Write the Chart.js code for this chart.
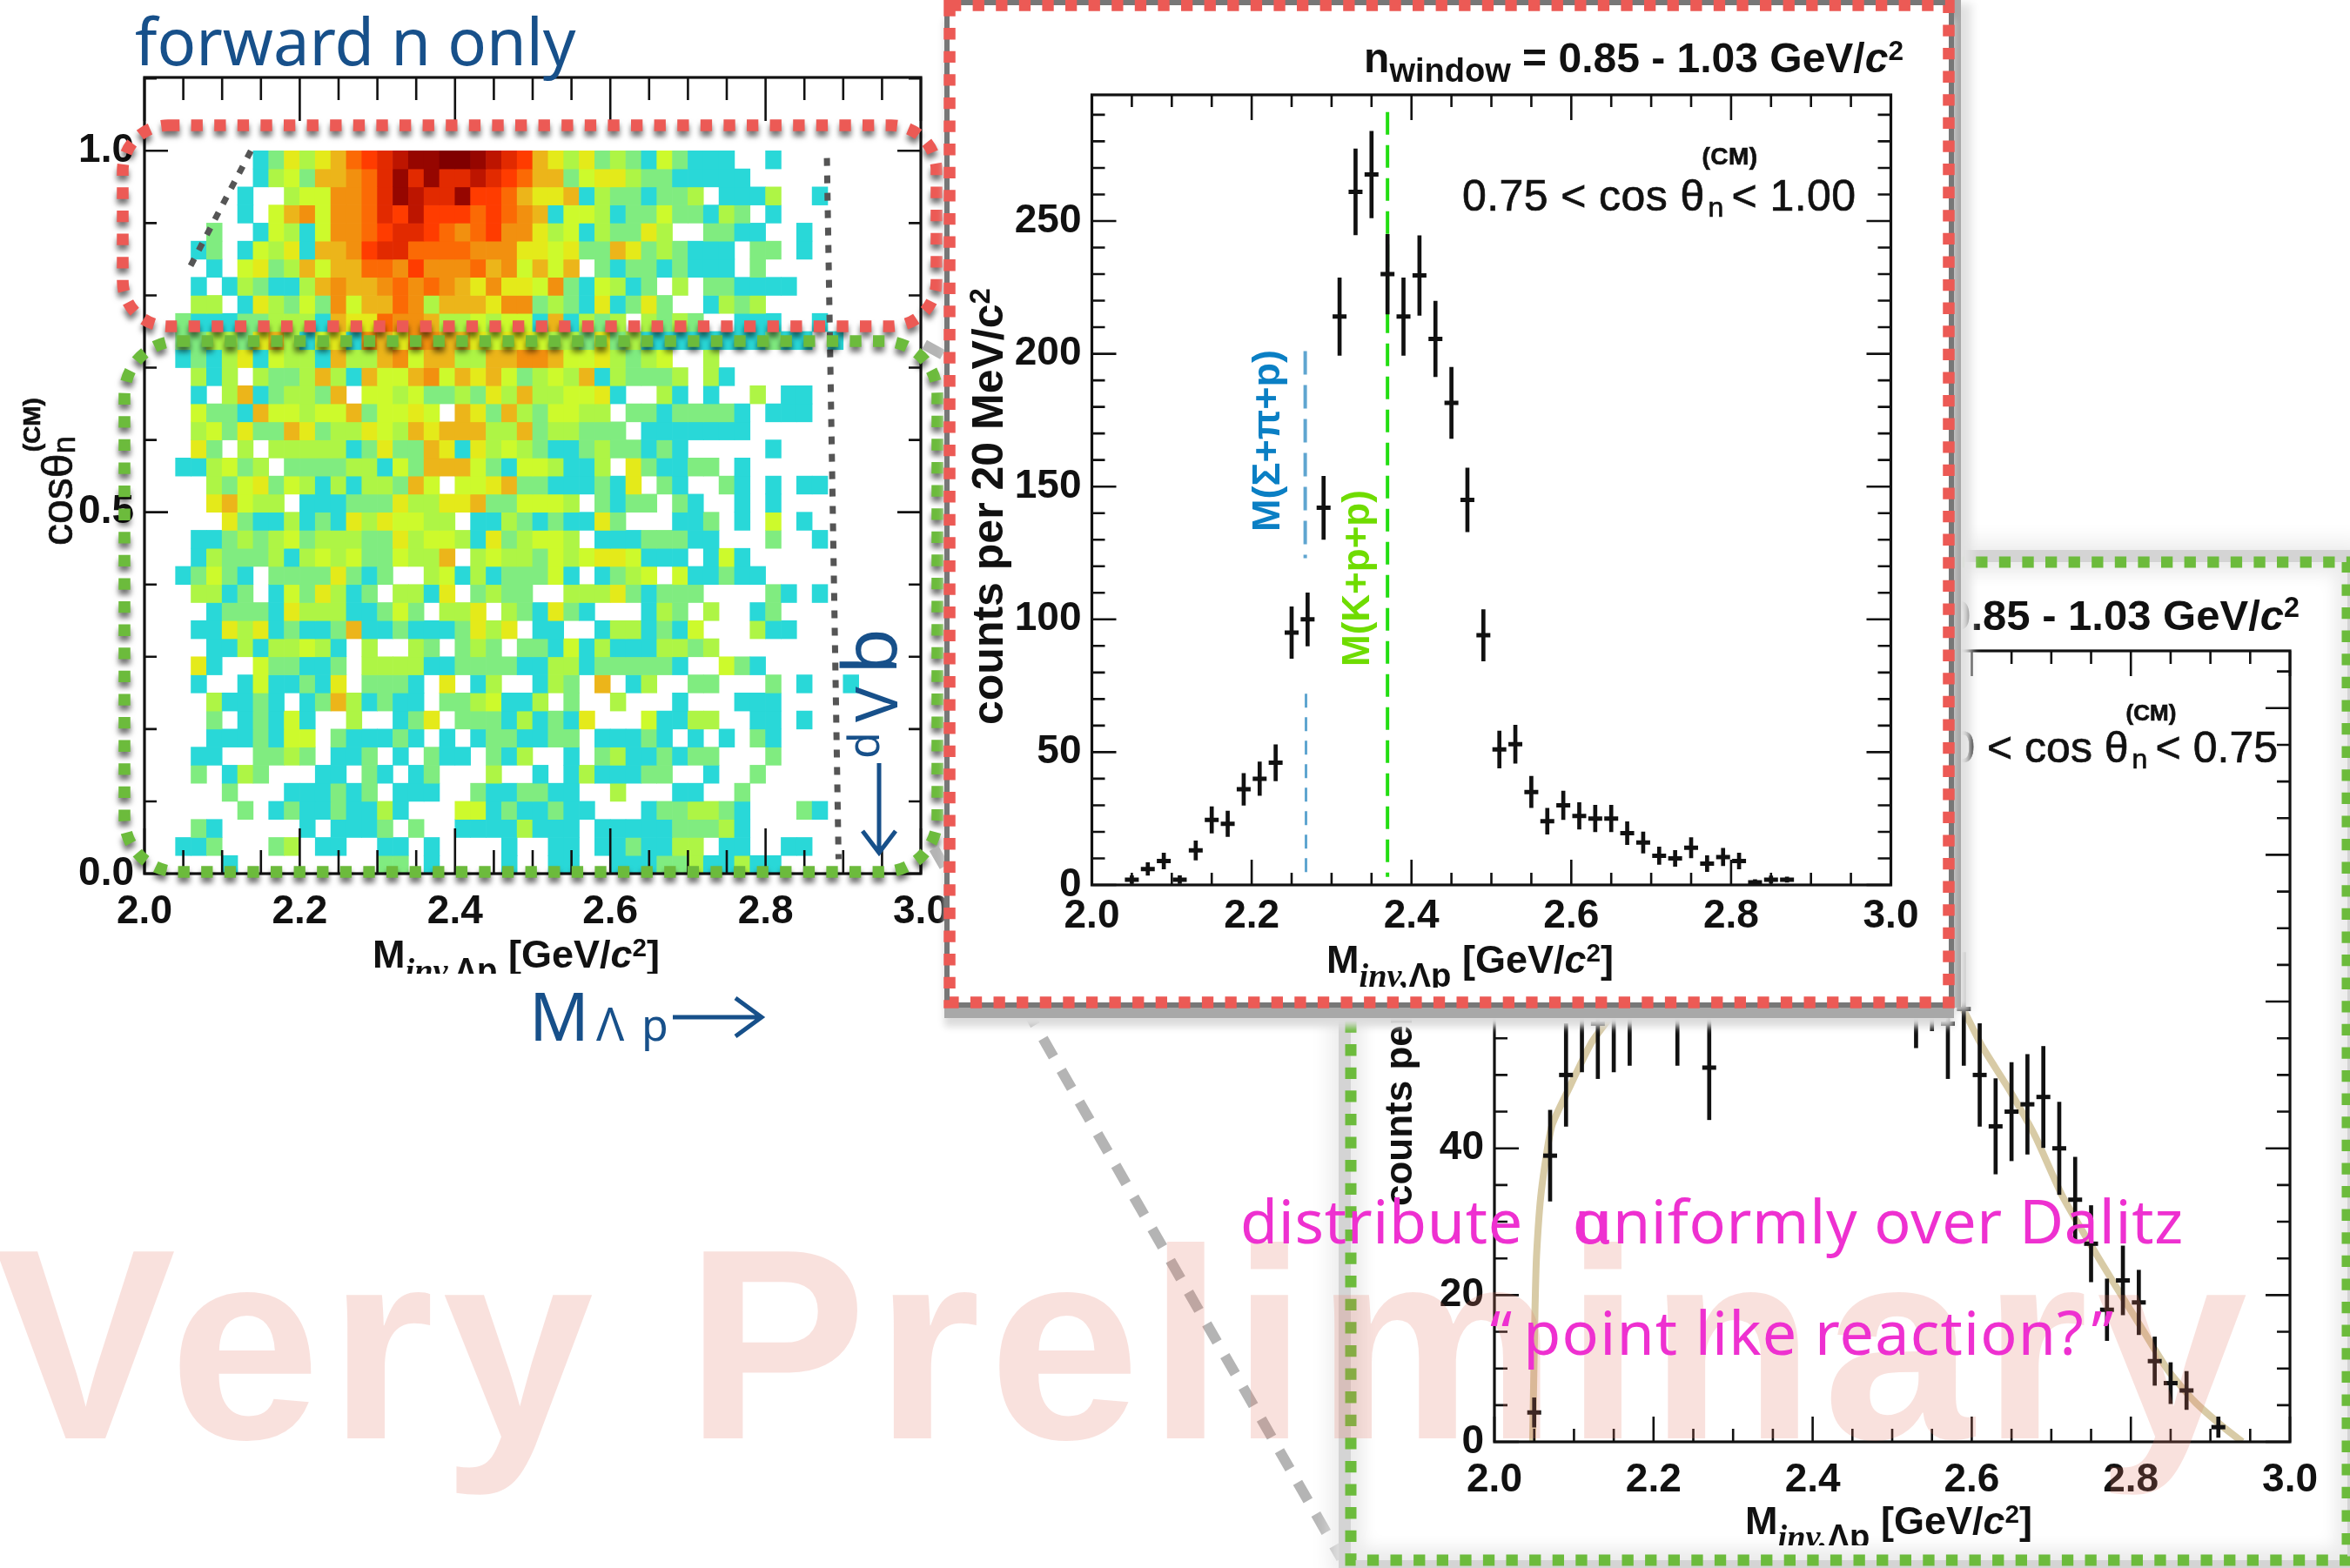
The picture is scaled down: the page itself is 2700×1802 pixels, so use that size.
<!DOCTYPE html>
<html>
<head>
<meta charset="utf-8">
<title>forward n only</title>
<script src="https://cdn.jsdelivr.net/npm/chart.js@4"></script>
<style>
html, body { margin: 0; padding: 0; background: #fff; }
#page { position: relative; width: 2700px; height: 1802px; overflow: hidden; background: #fff; font-family: "Liberation Sans", sans-serif; color: #111; }
canvas { position: absolute; }
svg { position: absolute; left: 0; top: 0; }
.t { position: absolute; line-height: 1; white-space: nowrap; }
.rot { transform-origin: 0 0; transform: rotate(-90deg); }
.blue { font-family: "Noto Sans", sans-serif; color: #17508a; }
.pink { font-family: "Noto Sans", sans-serif; color: #ee30d0; font-size: 70px; letter-spacing: 0.7px; z-index: 9; }
.bold { font-weight: bold; }
.semi { -webkit-text-stroke: 0.7px #111; }
.sub { font-size: 0.78em; position: relative; top: 0.3em; }
.sup { font-size: 0.66em; position: relative; top: -0.45em; }
.inv { font-family: "Liberation Serif", serif; font-style: italic; font-size: 0.85em; position: relative; top: 0.42em; }
.lam { font-family: "Liberation Sans", sans-serif; font-style: normal; }
.slot { display: inline-block; position: relative; width: 0.62em; height: 1em; }
.slot span { position: absolute; line-height: 1; }
.clip { position: absolute; overflow: hidden; white-space: nowrap; line-height: 1; font-weight: bold; font-size: 45px; }
#greenBox, #redBox { position: absolute; background: #fff; }
#greenBox { left: 1552px; top: 646px; width: 1145px; height: 1147px; z-index: 3; box-shadow: 0 0 0 14px #d4d4d4, 0 0 24px 22px #eaeaea, inset 0 0 18px 14px #ececec; }
#redBox { left: 1091px; top: 6px; width: 1148px; height: 1146px; z-index: 5; box-shadow: 0 0 0 6px #777, 0 12px 0 6px #a8a8a8, 0 22px 8px 6px #dcdcdc, 8px 0 0 6px #a8a8a8, 20px 4px 10px 6px #e2e2e2; }
</style>
</head>
<body>
<div id="page">
  <canvas id="heatChart" width="1130" height="1140" style="left:0;top:0;z-index:1"></canvas>

  <div class="t semi" style="font-size:50px;left:33px;top:627px;transform-origin:0 0;transform:rotate(-90deg);z-index:2">cosθ<span class="slot"><span style="font-size:36px;left:0;top:23px">n</span><span style="font-size:28px;font-weight:bold;left:2px;top:-10px">(CM)</span></span></div>
  <div class="clip" style="left:428px;top:1074px;width:340px;height:45px;z-index:2">M<span class="inv">inv,<span class="lam">Λp</span></span> [GeV/<i>c</i><span class="sup">2</span>]</div>

  <div class="t blue" style="font-size:74px;left:155px;top:10px;z-index:2">forward n only</div>
  <div class="t blue" style="font-size:76px;left:608px;top:1129px;z-index:2">M</div>
  <div class="t blue" style="font-size:53px;left:685px;top:1149px;z-index:2">Λ</div>
  <div class="t blue" style="font-size:50px;left:737px;top:1152px;z-index:2">p</div>
  <div class="t blue rot" style="font-size:50px;left:966px;top:872px;z-index:2">d</div>
  <div class="t blue rot" style="font-size:68px;left:971px;top:830px;z-index:2">V</div>
  <div class="t blue rot" style="font-size:86px;left:954px;top:775px;z-index:2">b</div>

  <svg width="2700" height="1802" style="z-index:2">
    <g fill="none" stroke="#17508a" stroke-width="5">
      <path d="M773 1169H873M845 1147L875 1169L845 1191"/>
      <path d="M1010 877V978M991 955L1010 980L1029 955"/>
    </g>
    <g fill="none" stroke-width="13.5" stroke-dasharray="13.3 13.3" style="filter:drop-shadow(0 6px 3px rgba(0,0,0,.55))">
      <rect x="141" y="144" width="935" height="231" rx="52" ry="52" stroke="#ec5a55"/>
      <rect x="143" y="392" width="934" height="610" rx="62" ry="62" stroke="#6cbb3c"/>
    </g>
    <path d="M1062 396L1575 680M1073 975L1541 1791" fill="none" stroke="#b4b4b4" stroke-width="12" stroke-dasharray="24 18"/>
  </svg>

  <div id="greenBox">
    <svg width="1145" height="1147" style="overflow:visible"><rect x="0" y="0" width="1145" height="1147" fill="none" stroke="#6cbb3c" stroke-width="13" stroke-dasharray="13.3 13.3"/></svg>
    <canvas id="greenChart" width="1110" height="1120" style="left:18px;top:16px"></canvas>
    <div class="t bold" style="font-size:49px;right:55px;top:37px">n<span class="sub" style="font-size:38px">window</span> = 0.85 - 1.03 GeV/<i>c</i><span class="sup">2</span></div>
    <div class="t semi" style="font-size:50px;right:80px;top:180px">0.00 &lt; cos θ<span class="slot"><span style="font-size:32px;left:4px;top:30px">n</span><span style="font-size:26px;font-weight:bold;left:-3px;top:-20px">(CM)</span></span>&lt; 0.75</div>
    <div class="t bold rot" style="font-size:44px;left:33px;top:740px">counts per 20 MeV/c<span class="sup">2</span></div>
    <div class="clip" style="left:453px;top:1079px;width:340px;height:51px">M<span class="inv">inv,<span class="lam">Λp</span></span> [GeV/<i>c</i><span class="sup">2</span>]</div>
  </div>

  <div id="redBox">
    <svg width="1148" height="1146" style="overflow:visible"><rect x="0" y="0" width="1148" height="1146" fill="none" stroke="#ec5a55" stroke-width="13.5" stroke-dasharray="13.3 13.3"/></svg>
    <canvas id="redChart" width="1134" height="1134" style="left:7px;top:6px"></canvas>
    <div class="t bold" style="font-size:48px;right:52px;top:37px">n<span class="sub" style="font-size:38px">window</span> = 0.85 - 1.03 GeV/<i>c</i><span class="sup">2</span></div>
    <div class="t semi" style="font-size:50px;left:589px;top:186px;letter-spacing:0.4px">0.75 &lt; cos θ<span class="slot"><span style="font-size:32px;left:4px;top:30px">n</span><span style="font-size:28px;font-weight:bold;left:-3px;top:-26px">(CM)</span></span>&lt; 1.00</div>
    <div class="t bold rot" style="font-size:50px;left:19px;top:827px">counts per 20 MeV/c<span class="sup">2</span></div>
    <div class="t bold rot" style="font-size:45px;left:341px;top:605px;color:#0a7fc4">M(Σ+π+p)</div>
    <div class="t bold rot" style="font-size:44px;left:445px;top:760px;color:#6fdc00">M(K+p+p)</div>
    <div class="clip" style="left:433px;top:1074px;width:345px;height:55px">M<span class="inv">inv,<span class="lam">Λp</span></span> [GeV/<i>c</i><span class="sup">2</span>]</div>
  </div>

  <div class="t bold" style="font-size:312px;letter-spacing:9.5px;left:-6px;top:1389px;color:rgba(228,120,100,.22);z-index:8">Very Preliminary</div>
  <div class="t pink" style="left:1425px;top:1367px">distribute&nbsp;&nbsp;&nbsp;<span style="margin-right:-0.6em">α</span>uniformly over Dalitz</div>
  <div class="t pink" style="left:1712px;top:1495px;letter-spacing:1.2px"><span style="margin-right:12px">“</span>point like reaction?<span style="margin-left:8px">”</span></div>
</div>

<script>
// heat map colour levels, 0 = empty bin
const heatLevels = ['#ffffff', '#29d8d8', '#80ec80', '#aef545', '#cdfa2c', '#e4ea1a', '#ecb51a', '#f2900f', '#fb6a05', '#ff3c00', '#e22a00', '#bd1500', '#960600', '#800000'];
const heatMass = [2.01, 2.03, 2.05, 2.07, 2.09, 2.11, 2.13, 2.15, 2.17, 2.19, 2.21, 2.23, 2.25, 2.27, 2.29, 2.31, 2.33, 2.35, 2.37, 2.39, 2.41, 2.43, 2.45, 2.47, 2.49, 2.51, 2.53, 2.55, 2.57, 2.59, 2.61, 2.63, 2.65, 2.67, 2.69, 2.71, 2.73, 2.75, 2.77, 2.79, 2.81, 2.83, 2.85, 2.87, 2.89, 2.91, 2.93, 2.95, 2.97, 2.99];
const heatCosWidth = 0.025;
// one string per cos bin from 1.0 downwards, one character per mass bin
const heatRows = [
  '000000012535689abccddcba96535232142111001',
  '000000013426678acacaaba9866245532211111',
  '000000100344778acbaac99865561322122301113001',
  '000000104674778a9b99989876144312242213201',
  '0000200143147789aa9878977534132253002211001',
  '000120143516679aa88887775545226523211102201',
  '0000104523646688797778674646021221211102',
  '000101321136766787876575547214312030221111',
  '0003301532427466873666577232151252001323',
  '00211122333165587763343441613230323200111001',
  '002233256314517657766545543325231111111121101',
  '0012135143316336746633667764453234003',
  '00031303223631644674656423436132223031',
  '0001036123326044342232536334451003101003011',
  '0004221644344624454065263244330221222210111',
  '000342522652335436566633623322201111111',
  '00052030333331252265153432112322121000001',
  '001134230222233142666421443113052112201',
  '00003245243131332640445622111215021002101011',
  '00005643301112225335562244430212202100101',
  '0000052113121535443301132121152000112010401',
  '00011232342333225344315234430111222110002001',
  '000132223134342243360343324345541110141',
  '0012421022225212003413122241012340411211',
  '00033120142531203315023220033352122200002101',
  '00001222153331124203350321521000132030012',
  '000115351211261121112535011001331214000311',
  '0000113133431030032023202214131113323',
  '0005100422112033331122221133122222100421',
  '0001001411215022210501300132060130022000201001',
  '00003112101263121102234113020030001000111',
  '0000201214100300125022213121500041133001101',
  '00001112144021112101012211220111210101021',
  '00011002232011201021102130010231121220002',
  '0002013200011021012000300101311122001002',
  '000002000111212011100211221100300011002',
  '00000020121121131000441211211000122332100021',
  '000210000010111202001111311101111122231',
  '0011200023011001101000010011011211330110011',
  '00000100000000022010000100110011122311311'
];
const heatYLabels = [0, 0.5, 1];
const cutRight = [{ x: 2.879, y: 0.99 }, { x: 2.894, y: 0.02 }];
const cutLeft = [{ x: 2.137, y: 1.0 }, { x: 2.055, y: 0.832 }];

const massLabels = [2.0, 2.2, 2.4, 2.6, 2.8, 3.0];

// forward window, 0.75 < cos < 1.00
const redYLabels = [0, 50, 100, 150, 200, 250];
const redMass = [2.05, 2.07, 2.09, 2.11, 2.13, 2.15, 2.17, 2.19, 2.21, 2.23, 2.25, 2.27, 2.29, 2.31, 2.33, 2.35, 2.37, 2.39, 2.41, 2.43, 2.45, 2.47, 2.49, 2.51, 2.53, 2.55, 2.57, 2.59, 2.61, 2.63, 2.65, 2.67, 2.69, 2.71, 2.73, 2.75, 2.77, 2.79, 2.81, 2.83, 2.85, 2.87];
const redCounts = [2, 6, 9, 2, 13, 24.5, 23, 36, 40, 46, 95, 100, 142, 214, 261, 267.5, 230, 214, 229.5, 205.6, 181.5, 145, 94, 51, 53, 35, 24, 30, 26, 25, 25, 19.5, 16, 11, 10, 14, 8, 10.5, 9, 1, 2, 2];
const redErrors = [1.5, 2.4, 3, 1.5, 3.6, 5, 4.8, 6, 6.3, 6.8, 9.7, 10, 11.9, 14.6, 16.2, 16.3, 15, 14.6, 15, 14.2, 13.4, 12, 9.7, 7, 7.2, 5.9, 4.9, 5.4, 5, 5, 5, 4.3, 4, 3.3, 3, 3.8, 3, 3.3, 3, 1, 1.4, 1];
const sigmaLineUpper = [{ x: 2.267, y: 201 }, { x: 2.267, y: 123 }];
const sigmaLineLower = [{ x: 2.268, y: 72 }, { x: 2.268, y: 3 }];
const kaonLine = [{ x: 2.37, y: 291 }, { x: 2.37, y: 3 }];

// backward window, cos < 0.75
const greenYLabels = [0, 20, 40, 60, 80, 100];
const greenMass = [2.05, 2.07, 2.09, 2.11, 2.13, 2.15, 2.17, 2.23, 2.27, 2.53, 2.55, 2.57, 2.59, 2.61, 2.63, 2.65, 2.67, 2.69, 2.71, 2.73, 2.75, 2.77, 2.79, 2.81, 2.83, 2.85, 2.87, 2.91];
const greenCounts = [4, 39, 50, 58, 57, 58, 59, 59, 51, 61.5, 64, 57, 59, 50, 43, 45, 46, 47, 40, 33, 27, 18, 22, 19, 11, 8, 7, 2];
const greenErrors = [2, 6.2, 7, 7.6, 7.5, 7.6, 7.7, 7.7, 7.1, 7.8, 8, 7.5, 7.7, 7, 6.5, 6.7, 6.8, 6.9, 6.3, 5.8, 5.2, 4.2, 4.7, 4.4, 3.3, 2.8, 2.6, 1.4];
const curveMass = [2.048, 2.049, 2.051, 2.053, 2.059, 2.072, 2.093, 2.122, 2.147, 2.2, 2.4, 2.55, 2.588, 2.613, 2.647, 2.68, 2.713, 2.747, 2.78, 2.813, 2.847, 2.88, 2.913, 2.94];
const curveValues = [0, 6, 18, 25.5, 34.2, 43, 48, 54.4, 58.1, 66, 75, 66, 59.2, 53.9, 48, 41.6, 33.7, 27.3, 21.4, 15.6, 9.7, 5.5, 2.3, 0];

const toPoints = (xs, ys) => xs.map((x, i) => ({ x: x, y: ys[i] }));
const toErrorBars = (xs, ys, errs) => xs.map((x, i) => ({ x: x, y: [ys[i] - errs[i], ys[i] + errs[i]] }));

// ticks point inwards on all four sides and the frame goes over the marks
const insideTicks = {
    id: 'insideTicks',
    afterDatasetsDraw(chart, args, opts) {
        const { ctx, chartArea: a, scales } = chart;
        const xScale = scales.x, yScale = scales.y;
        ctx.save();
        ctx.strokeStyle = '#111';
        ctx.lineWidth = 2.6;
        ctx.beginPath();
        const near = (v, step) => Math.abs(v / step - Math.round(v / step)) < 1e-6;
        for (let i = 0; xScale.min + i * opts.xMinor <= xScale.max + 1e-9; i++) {
            const v = xScale.min + i * opts.xMinor;
            const px = xScale.getPixelForValue(v);
            const top = near(v, opts.xMajor) ? opts.xMajorTop : opts.xMinorTop;
            const bottom = near(v, opts.xMajor) ? opts.xMajorBottom : opts.xMinorBottom;
            ctx.moveTo(px, a.top);
            ctx.lineTo(px, a.top + top);
            ctx.moveTo(px, a.bottom);
            ctx.lineTo(px, a.bottom - bottom);
        }
        for (let i = 0; i * opts.yMinor <= yScale.max + 1e-9; i++) {
            const v = i * opts.yMinor;
            const py = yScale.getPixelForValue(v);
            const len = near(v, opts.yMajor) ? opts.yMajorLen : opts.yMinorLen;
            ctx.moveTo(a.left, py);
            ctx.lineTo(a.left + len, py);
            ctx.moveTo(a.right, py);
            ctx.lineTo(a.right - len, py);
        }
        ctx.stroke();
        ctx.lineWidth = 3.2;
        ctx.strokeRect(a.left, a.top, a.right - a.left, a.bottom - a.top);
        ctx.restore();
    }
};

function baseOptions(box, yMax, yLabels, xPad, tickOpts) {
    const tickFont = { family: '"Liberation Sans", sans-serif', size: 46, weight: 'bold' };
    return {
        responsive: false,
        animation: false,
        events: [],
        layout: { autoPadding: false, padding: { top: box.top, right: box.right, left: 0, bottom: 0 } },
        plugins: { legend: { display: false }, tooltip: { enabled: false }, insideTicks: tickOpts },
        scales: {
            x: {
                type: 'linear', min: 2, max: 3, offset: false,
                grid: { display: false, drawTicks: false }, border: { display: false },
                afterBuildTicks: s => { s.ticks = massLabels.map(v => ({ value: v })); },
                afterFit: s => { s.height = box.bottom; },
                ticks: { autoSkip: false, maxRotation: 0, padding: xPad, color: '#111', font: tickFont, callback: v => v.toFixed(1) }
            },
            y: {
                min: 0, max: yMax,
                grid: { display: false, drawTicks: false }, border: { display: false },
                afterBuildTicks: s => { s.ticks = yLabels.map(v => ({ value: v })); },
                afterFit: s => { s.width = box.left; },
                ticks: { autoSkip: false, padding: 12, color: '#111', font: tickFont, callback: v => (yMax < 2 ? v.toFixed(1) : v) }
            }
        }
    };
}

function countDatasets(xs, ys, errs) {
    return [
        { type: 'bar', data: toErrorBars(xs, ys, errs), backgroundColor: '#111', barThickness: 4, grouped: false, order: 2 },
        { type: 'scatter', data: toPoints(xs, ys), pointStyle: 'line', pointRadius: 8, pointBorderWidth: 5, pointBorderColor: '#111', order: 1 }
    ];
}

function guideLine(points, color, width, dash) {
    return { type: 'line', data: points, borderColor: color, borderWidth: width, borderDash: dash, pointRadius: 0, order: 3 };
}

// heat map, one floating-bar dataset per cos bin
const heatDatasets = heatRows.map((row, r) => {
    const cells = [], colors = [];
    row.split('').forEach((ch, c) => {
        const level = parseInt(ch, 16);
        if (level > 0) {
            cells.push({ x: heatMass[c], y: [1 - heatCosWidth * (r + 1), 1 - heatCosWidth * r] });
            colors.push(heatLevels[level]);
        }
    });
    return { type: 'bar', data: cells, backgroundColor: colors, borderWidth: 0, grouped: false, barPercentage: 1, categoryPercentage: 1, order: 5 };
});

new Chart(document.getElementById('heatChart'), {
    type: 'bar',
    data: {
        datasets: heatDatasets.concat([
            guideLine(cutRight, '#555', 7, [9, 11]),
            guideLine(cutLeft, '#555', 7, [9, 11])
        ])
    },
    options: baseOptions({ top: 89, right: 72, left: 166, bottom: 136 }, 1.1015, heatYLabels, 17,
        { xMinor: 0.05, xMajor: 0.2, xMajorTop: 50, xMinorTop: 26, xMajorBottom: 52, xMinorBottom: 27, yMinor: 0.1, yMajor: 0.5, yMajorLen: 27, yMinorLen: 14 }),
    plugins: [insideTicks]
});

new Chart(document.getElementById('redChart'), {
    type: 'bar',
    data: {
        datasets: countDatasets(redMass, redCounts, redErrors).concat([
            guideLine(sigmaLineUpper, '#5fa5d0', 4, [27, 12]),
            guideLine(sigmaLineLower, '#5fa5d0', 3, [16, 11]),
            guideLine(kaonLine, '#22dd11', 4, [26, 12])
        ])
    },
    options: baseOptions({ top: 97, right: 59.5, left: 156.5, bottom: 129 }, 297.5, redYLabels, 9,
        { xMinor: 0.05, xMajor: 0.2, xMajorTop: 29, xMinorTop: 14, xMajorBottom: 29, xMinorBottom: 14, yMinor: 10, yMajor: 50, yMajorLen: 28, yMinorLen: 15 }),
    plugins: [insideTicks]
});

new Chart(document.getElementById('greenChart'), {
    type: 'bar',
    data: {
        datasets: countDatasets(greenMass, greenCounts, greenErrors).concat([
            { type: 'line', data: toPoints(curveMass, curveValues), borderColor: '#d8cba6', borderWidth: 8, tension: 0.2, pointRadius: 0, order: 4 }
        ])
    },
    options: baseOptions({ top: 86, right: 45, left: 147, bottom: 125 }, 107.8, greenYLabels, 17,
        { xMinor: 0.05, xMajor: 0.2, xMajorTop: 29, xMinorTop: 15, xMajorBottom: 29, xMinorBottom: 15, yMinor: 5, yMajor: 20, yMajorLen: 28, yMinorLen: 15 }),
    plugins: [insideTicks]
});
</script>
</body>
</html>
